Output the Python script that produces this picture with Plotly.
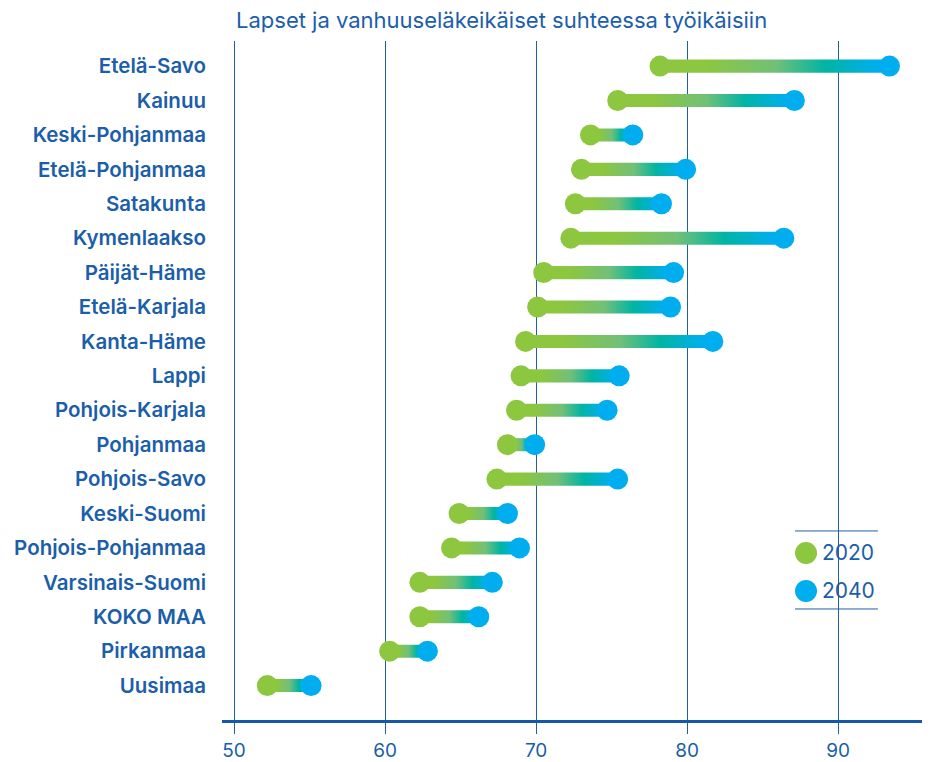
import plotly.graph_objects as go

regions = ["Etelä-Savo", "Kainuu", "Keski-Pohjanmaa", "Etelä-Pohjanmaa", "Satakunta",
           "Kymenlaakso", "Päijät-Häme", "Etelä-Karjala", "Kanta-Häme", "Lappi",
           "Pohjois-Karjala", "Pohjanmaa", "Pohjois-Savo", "Keski-Suomi",
           "Pohjois-Pohjanmaa", "Varsinais-Suomi", "KOKO MAA", "Pirkanmaa", "Uusimaa"]
v2020 = [78.2, 75.4, 73.6, 73.0, 72.6, 72.3, 70.5, 70.1, 69.3, 69.0,
         68.7, 68.1, 67.4, 64.9, 64.4, 62.3, 62.3, 60.3, 52.2]
v2040 = [93.4, 87.1, 76.4, 79.9, 78.3, 86.4, 79.1, 78.9, 81.7, 75.5,
         74.7, 69.9, 75.4, 68.1, 68.9, 67.1, 66.2, 62.8, 55.1]
x_ticks = [50, 60, 70, 80, 90]
title_text = "Lapset ja vanhuuseläkeikäiset suhteessa työikäisiin"
series_names = ["2020", "2040"]

GREEN = "#8dc63f"
BLUE = "#00aeef"
TEAL = "#00b5a3"
TXT = "#1b5ea9"
GRID = "#1f5fa8"
FONT = "Inter"

n = len(regions)
ypos = [n - 1 - i for i in range(n)]
half = 0.19

fig = go.Figure()
grad = [[0, GREEN], [0.2, GREEN], [0.5, "#72c078"], [0.72, TEAL], [0.95, BLUE], [1, BLUE]]
for r, a, b, y in zip(regions, v2020, v2040, ypos):
    fig.add_trace(go.Scatter(
        x=[a, b, b, a, a], y=[y - half, y - half, y + half, y + half, y - half],
        mode="none", fill="toself",
        fillgradient=dict(type="horizontal", colorscale=grad, start=a, stop=b),
        showlegend=False, hoverinfo="skip"))

fig.add_trace(go.Scatter(x=v2020, y=ypos, mode="markers", name=series_names[0],
                         marker=dict(size=21, color=GREEN, line=dict(width=0)),
                         showlegend=False))
fig.add_trace(go.Scatter(x=v2040, y=ypos, mode="markers", name=series_names[1],
                         marker=dict(size=21, color=BLUE, line=dict(width=0)),
                         showlegend=False))

# legend decoration
L0, L1 = 0.8186, 0.937
for yy in [0.2784, 0.1635]:
    fig.add_shape(type="line", xref="paper", yref="paper", x0=L0, x1=L1, y0=yy, y1=yy,
                  line=dict(color=GRID, width=1))
leg_rows = [(0.2460, GREEN, series_names[0]), (0.1900, BLUE, series_names[1])]
for yy, col, name in leg_rows:
    fig.add_shape(type="circle", xref="paper", yref="paper", xsizemode="pixel", ysizemode="pixel",
                  xanchor=0.8343, yanchor=yy, x0=-11, x1=11, y0=-11, y1=11,
                  fillcolor=col, line=dict(width=0))
    fig.add_annotation(xref="paper", yref="paper", x=0.854, y=yy, xanchor="left", yanchor="middle",
                       text=name, showarrow=False, font=dict(family=FONT, size=21, color=TXT))

fig.add_annotation(xref="paper", yref="paper", x=0.017, y=1, xanchor="left", yanchor="bottom",
                   yshift=6, text=title_text, showarrow=False,
                   font=dict(family=FONT, size=22, color=TXT))

fig.update_xaxes(range=[49.2, 95.55], tickvals=x_ticks, showgrid=True, gridcolor=GRID, gridwidth=1,
                 ticks="outside", ticklen=11, tickcolor=GRID, tickwidth=1,
                 showline=True, linecolor="#1558a6", linewidth=3, zeroline=False,
                 tickfont=dict(family=FONT, size=19, color=TXT), automargin=False)
fig.update_yaxes(range=[-1, 18.73], tickvals=ypos, ticktext=regions, showgrid=False,
                 zeroline=False, showline=False, ticks="", ticklabelstandoff=15,
                 tickfont=dict(family=FONT, size=20.5, color=TXT, weight=600), automargin=False)

fig.update_layout(width=934, height=754, margin=dict(l=214, r=20, t=33, b=42),
                  plot_bgcolor="white", paper_bgcolor="white", showlegend=False)

fig.write_html("out.html")
